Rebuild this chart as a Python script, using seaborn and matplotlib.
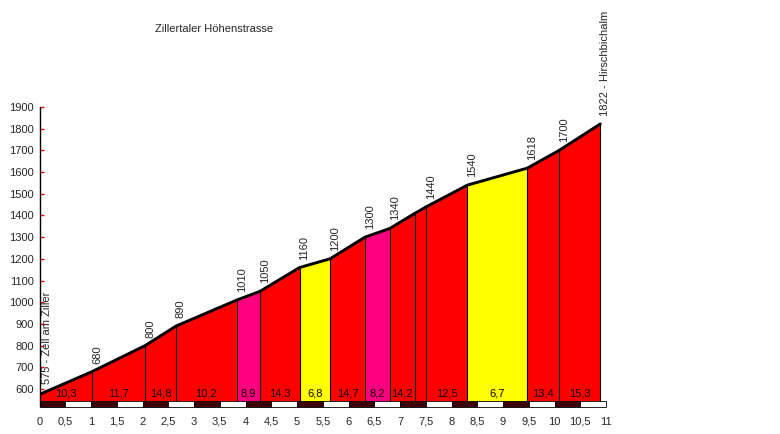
import numpy as np
import pandas as pd
import matplotlib
matplotlib.use('Agg')
import matplotlib.pyplot as plt
import seaborn as sns
from matplotlib.patches import Rectangle

# profile data
dist_km = [0, 1.02, 2.05, 2.65, 3.83, 4.28, 5.05, 5.64, 6.32, 6.80, 7.29, 7.51, 8.31, 9.47, 10.09, 10.89]
elev_m = [575, 680, 800, 890, 1010, 1050, 1160, 1200, 1300, 1340, 1410, 1440, 1540, 1618, 1700, 1822]
elev_labels = ['575 - Zell am Ziller', '680', '800', '890', '1010', '1050', '1160', '1200',
               '1300', '1340', '', '1440', '1540', '1618', '1700', '1822 - Hirschbichalm']
grade_labels = ['10,3', '11,7', '14,8', '10,2', '8,9', '14,3', '6,8', '14,7',
                '8,2', '14,2', '', '12,5', '6,7', '13,4', '15,3']
grade_class = ['red', 'red', 'red', 'red', 'pink', 'red', 'yellow', 'red',
               'pink', 'red', 'red', 'red', 'yellow', 'red', 'red']
palette = {'red': '#ff0000', 'pink': '#ff0080', 'yellow': '#ffff00'}

title = 'Zillertaler Höhenstrasse'
base = 545

sns.set_style('white')
plt.rcParams['font.family'] = ['Liberation Sans', 'DejaVu Sans']

fig = plt.figure(figsize=(7.8, 4.34), dpi=100)
ax = fig.add_axes([39.5 / 780, 1 - 407 / 434, (606 - 39.5) / 780, 300 / 434])

df = pd.DataFrame({'km': dist_km, 'm': elev_m})

# coloured segments, one per gradient
for i in range(len(dist_km) - 1):
    ax.fill_between(dist_km[i:i + 2], elev_m[i:i + 2], base,
                    color=palette[grade_class[i]], lw=0, zorder=1)
    mid = (dist_km[i] + dist_km[i + 1]) / 2
    ax.text(mid, 577, grade_labels[i], ha='center', va='center', fontsize=8, color='#100000', zorder=4)

# vertical separators
for x, y in zip(dist_km[1:], elev_m[1:]):
    ax.plot([x, x], [base, y], color='black', lw=0.8, zorder=2)

sns.lineplot(data=df, x='km', y='m', color='black', lw=2.1, ax=ax, zorder=3)

# elevation labels
for i, (x, y, lab) in enumerate(zip(dist_km, elev_m, elev_labels)):
    if not lab:
        continue
    off = (7, 10) if i == 0 else (5, 8)
    ax.annotate(lab, (x, y), xytext=off, textcoords='offset pixels',
                rotation=90, ha='center', va='bottom', fontsize=8)

# distance scale bar
for k, x0 in enumerate(np.arange(0, 11, 0.5)):
    ax.add_patch(Rectangle((x0, 517), 0.5, base - 517,
                           facecolor='#3c0000' if k % 2 == 0 else 'white',
                           edgecolor='black', lw=0.6, zorder=2, clip_on=False))

ax.set_xlim(0, 11)
ax.set_ylim(517, 1900)
ticks_x = np.arange(0, 11.5, 0.5)
ax.set_xticks(ticks_x)
ax.set_xticklabels([f'{t:g}'.replace('.', ',') for t in ticks_x], fontsize=8)
ax.set_yticks(range(600, 2000, 100))
ax.set_yticklabels([str(v) for v in range(600, 2000, 100)], fontsize=8)
ax.tick_params(axis='x', length=0, pad=7)
ax.tick_params(axis='y', direction='in', length=3, width=1, color='red', pad=4, left=True)
ax.set_xlabel('')
ax.set_ylabel('')
for s in ['top', 'right', 'bottom']:
    ax.spines[s].set_visible(False)
ax.spines['left'].set_color('black')
ax.spines['left'].set_linewidth(1)
ax.spines['left'].set_bounds(522, 1900)
ax.set_facecolor('white')

fig.text(155 / 780, 1 - 29 / 434, title, ha='left', va='center', fontsize=8)

fig.savefig('out.png', dpi=100)
